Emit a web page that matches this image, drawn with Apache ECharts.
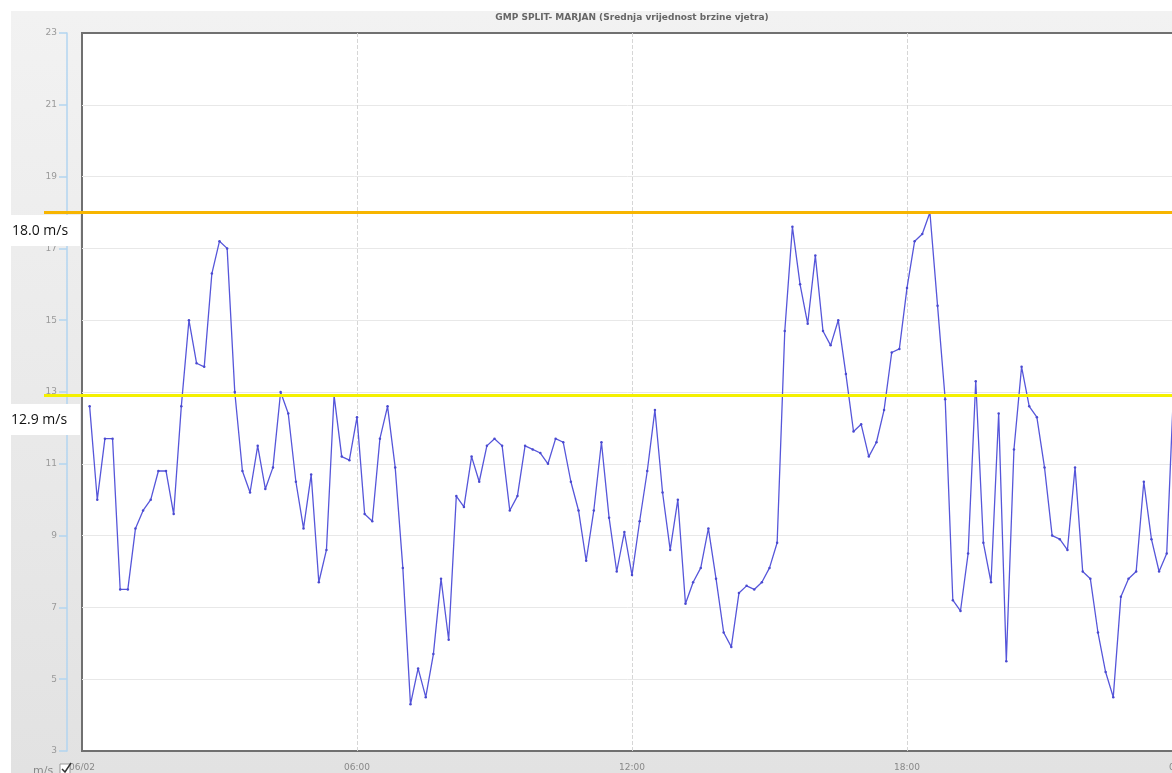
<!DOCTYPE html>
<html>
<head>
<meta charset="utf-8">
<script src="https://cdn.jsdelivr.net/npm/echarts@6/dist/echarts.min.js"></script>
<style>
html, body { margin: 0; padding: 0; background: #fff; }
#bg { position: absolute; left: 11px; top: 11px; width: 1161px; height: 762px;
      background: linear-gradient(#f2f2f2, #e2e2e2); }
#chart { position: absolute; left: 0; top: 0; width: 1172px; height: 773px; }
</style>
</head>
<body>
<div id="bg"></div>
<div id="chart"></div>
<script>
// 10-minute mean wind speed (m/s), first value at 00:10
var speeds = [
  12.6, 10.0, 11.7, 11.7, 7.5, 7.5, 9.2, 9.7, 10.0, 10.8,
  10.8, 9.6, 12.6, 15.0, 13.8, 13.7, 16.3, 17.2, 17.0, 13.0,
  10.8, 10.2, 11.5, 10.3, 10.9, 13.0, 12.4, 10.5, 9.2, 10.7,
  7.7, 8.6, 12.9, 11.2, 11.1, 12.3, 9.6, 9.4, 11.7, 12.6,
  10.9, 8.1, 4.3, 5.3, 4.5, 5.7, 7.8, 6.1, 10.1, 9.8,
  11.2, 10.5, 11.5, 11.7, 11.5, 9.7, 10.1, 11.5, 11.4, 11.3,
  11.0, 11.7, 11.6, 10.5, 9.7, 8.3, 9.7, 11.6, 9.5, 8.0,
  9.1, 7.9, 9.4, 10.8, 12.5, 10.2, 8.6, 10.0, 7.1, 7.7,
  8.1, 9.2, 7.8, 6.3, 5.9, 7.4, 7.6, 7.5, 7.7, 8.1,
  8.8, 14.7, 17.6, 16.0, 14.9, 16.8, 14.7, 14.3, 15.0, 13.5,
  11.9, 12.1, 11.2, 11.6, 12.5, 14.1, 14.2, 15.9, 17.2, 17.4,
  18.0, 15.4, 12.8, 7.2, 6.9, 8.5, 13.3, 8.8, 7.7, 12.4,
  5.5, 11.4, 13.7, 12.6, 12.3, 10.9, 9.0, 8.9, 8.6, 10.9,
  8.0, 7.8, 6.3, 5.2, 4.5, 7.3, 7.8, 8.0, 10.5, 8.9,
  8.0, 8.5, 13.6
];
var levels = [18.0, 12.9];
var levelLabels = ['18.0 m/s', '12.9 m/s'];
var levelColors = ['#f7b500', '#f4f000'];
var xTickLabels = { 0: '06/02', 360: '06:00', 720: '12:00', 1080: '18:00', 1440: '00:00' };

var points = speeds.map(function (v, i) { return [(i + 1) * 10, v]; });

var chart = echarts.init(document.getElementById('chart'));
var option = {
  animation: false,
  title: {
    text: 'GMP SPLIT- MARJAN (Srednja vrijednost brzine vjetra)',
    left: 632, top: 13, textAlign: 'center', padding: 0,
    textStyle: { fontFamily: 'DejaVu Sans', fontSize: 9, fontWeight: 'bold', color: '#666' }
  },
  grid: {
    left: 82, right: -10, top: 33, bottom: 22,
    outerBoundsMode: 'none', containLabel: false,
    show: true, backgroundColor: '#fff', borderColor: '#707070', borderWidth: 2
  },
  xAxis: {
    type: 'value', min: 0, max: 1440, interval: 360,
    axisLine: { show: false }, axisTick: { show: false },
    axisLabel: {
      color: '#888', fontSize: 9, margin: 12, fontFamily: 'DejaVu Sans',
      formatter: function (v) { return xTickLabels[v] || ''; }
    },
    splitLine: { show: true, showMinLine: false, showMaxLine: false,
                 lineStyle: { color: '#d6d6d6', type: 'dashed' } }
  },
  yAxis: {
    type: 'value', min: 3, max: 23, interval: 2, offset: 15,
    axisLine: { show: true, onZero: false, lineStyle: { color: '#b2d5f0', width: 1.5 } },
    axisTick: { show: true, length: 8, lineStyle: { color: '#b2d5f0', width: 1.5 } },
    axisLabel: { color: '#999', fontSize: 9, margin: 10, fontFamily: 'DejaVu Sans' },
    splitLine: { show: true, showMinLine: false, showMaxLine: false,
                 lineStyle: { color: '#e8e8e8' } }
  },
  series: [{
    type: 'line',
    data: points,
    symbol: 'circle', symbolSize: 2.5, showSymbol: true,
    lineStyle: { color: '#5656da', width: 1.3 },
    itemStyle: { color: '#4a4ad0' },
    markLine: {
      silent: true, symbol: ['none', 'none'], label: { show: false },
      data: levels.map(function (lv, k) {
        return [
          { xAxis: 0, yAxis: lv, x: 44, lineStyle: { color: levelColors[k], width: 3, type: 'solid' } },
          { xAxis: 1440, yAxis: lv, x: 1172 }
        ];
      })
    }
  }],
  graphic: [
    { type: 'rect', shape: { x: 0, y: 215, width: 80, height: 31 }, style: { fill: '#fff' }, z: 100 },
    { type: 'rect', shape: { x: 0, y: 404, width: 80, height: 31 }, style: { fill: '#fff' }, z: 100 },
    { type: 'text', x: 12, y: 231, z: 101,
      style: { text: levelLabels[0], fill: '#111', font: '14px "Open Sans"', verticalAlign: 'middle' } },
    { type: 'text', x: 11, y: 420, z: 101,
      style: { text: levelLabels[1], fill: '#111', font: '14px "Open Sans"', verticalAlign: 'middle' } },
    { type: 'text', x: 33, y: 766, z: 101,
      style: { text: 'm/s', fill: '#888', font: '11px "DejaVu Sans"' } },
    { type: 'rect', shape: { x: 60, y: 764, width: 10, height: 10 }, z: 101,
      style: { fill: '#fff', stroke: '#999', lineWidth: 1 } },
    { type: 'polyline', shape: { points: [[62, 769], [65, 772], [71, 763]] }, z: 102,
      style: { stroke: '#333', lineWidth: 1.5, fill: null } }
  ]
};
option && chart.setOption(option);
</script>
</body>
</html>
